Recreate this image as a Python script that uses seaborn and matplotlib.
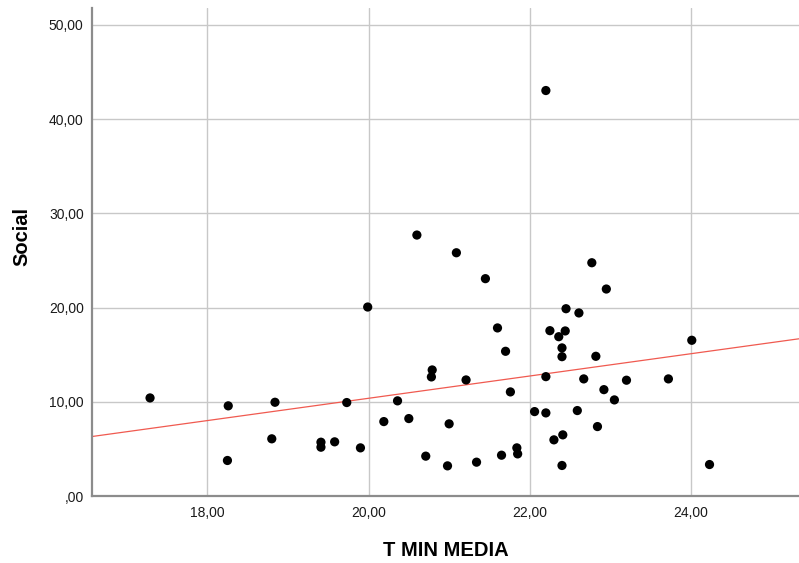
import matplotlib
matplotlib.use("Agg")
import matplotlib.pyplot as plt
import seaborn as sns
import pandas as pd
from matplotlib.ticker import FuncFormatter, FixedLocator

# Mean minimum temperature per station and the "Social" score
t_min_media = [
    17.29, 18.26, 18.25, 18.84, 18.80, 19.41, 19.41, 19.58, 19.73, 19.90,
    19.99, 20.19, 20.36, 20.50, 20.71, 20.79, 20.78, 20.98, 21.00, 21.21,
    21.34, 21.45, 21.60, 21.65, 21.70, 21.76, 21.84, 21.85, 22.06, 22.20,
    22.20, 22.25, 22.30, 22.36, 22.41, 22.40, 22.40, 22.40, 22.44, 22.45,
    22.59, 22.61, 22.67, 22.77, 22.82, 22.84, 22.92, 22.95, 23.05, 23.20,
    23.72, 24.01, 24.23, 22.20, 20.60, 21.09,
]
social = [
    10.41, 9.57, 3.77, 9.95, 6.07, 5.71, 5.18, 5.75, 9.92, 5.11,
    20.06, 7.90, 10.10, 8.22, 4.23, 13.38, 12.64, 3.20, 7.66, 12.32,
    3.59, 23.07, 17.84, 4.33, 15.36, 11.05, 5.11, 4.47, 8.96, 12.67,
    8.82, 17.55, 5.96, 16.91, 6.49, 15.72, 14.79, 3.24, 17.52, 19.88,
    9.07, 19.43, 12.43, 24.76, 14.83, 7.37, 11.29, 21.97, 10.20, 12.29,
    12.43, 16.53, 3.34, 43.04, 27.70, 25.82,
]

x_ticks = [18, 20, 22, 24]
y_ticks = [0, 10, 20, 30, 40, 50]

df = pd.DataFrame({"T MIN MEDIA": t_min_media, "Social": social})

sns.set_style("white")
plt.rcParams["font.family"] = ["Liberation Sans", "DejaVu Sans"]

fig = plt.figure(figsize=(7.99, 5.63), dpi=100)
ax = fig.add_axes([92 / 799, 1 - 496 / 563, 1 - 92 / 799, (496 - 8) / 563])

ax.set_xlim(16.57, 25.34)
ax.set_ylim(0, 51.8)

ax.xaxis.set_major_locator(FixedLocator(x_ticks))
ax.yaxis.set_major_locator(FixedLocator(y_ticks))
ax.grid(True, color="#c8c8c8", linewidth=1.0)
ax.set_axisbelow(True)

# fitted linear trend across the whole x range
sns.regplot(data=df, x="T MIN MEDIA", y="Social", ax=ax, scatter=False,
            ci=None, truncate=False,
            line_kws=dict(color="#f05a50", linewidth=0.9, zorder=2))

sns.scatterplot(data=df, x="T MIN MEDIA", y="Social", ax=ax, color="black",
                s=44, edgecolor="none", zorder=3)

def comma_fmt(v, pos):
    s = f"{v:.2f}".replace(".", ",")
    return s[1:] if s.startswith("0,") else s

ax.xaxis.set_major_formatter(FuncFormatter(comma_fmt))
ax.yaxis.set_major_formatter(FuncFormatter(comma_fmt))

ax.tick_params(axis="both", length=0, labelsize=10, labelcolor="#1a1a1a")
ax.tick_params(axis="x", pad=7)
ax.tick_params(axis="y", pad=6)

for side in ("top", "right"):
    ax.spines[side].set_visible(False)
for side in ("left", "bottom"):
    ax.spines[side].set_color("#8c8c8c")
    ax.spines[side].set_linewidth(1.6)

ax.set_xlabel("T MIN MEDIA", fontsize=14.5, fontweight="bold", va="center",
              color="black")
ax.xaxis.set_label_coords(0.5, -(550 - 496) / 488)
ax.set_ylabel("Social", fontsize=14.5, fontweight="bold", va="center",
              color="black")
ax.yaxis.set_label_coords(-(92 - 22) / 707, (496 - 237) / 488)

fig.savefig("out.png", dpi=100)
